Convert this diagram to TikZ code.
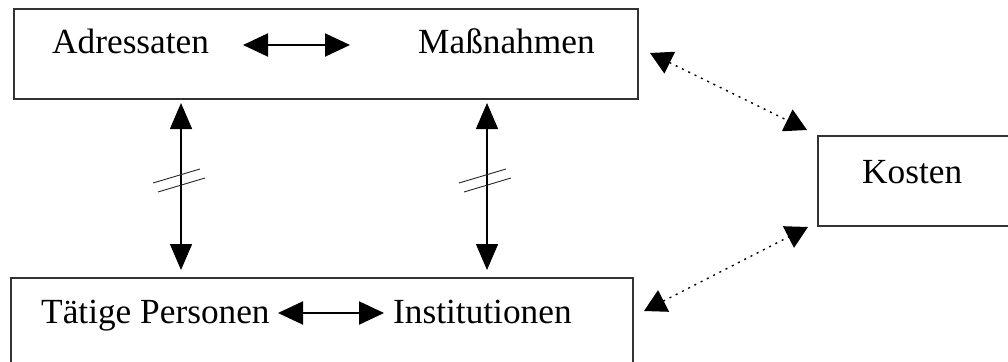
\documentclass[tikz,border=0pt]{standalone}
\usepackage{fontspec}
\setmainfont{Liberation Serif}
\usetikzlibrary{arrows.meta}
\begin{document}
\begin{tikzpicture}[x=1pt,y=-1pt,
  box/.style={draw=black!80, line width=2pt, rectangle, inner sep=0pt, anchor=north west},
  lbl/.style={inner sep=0pt, anchor=base west, font=\fontsize{35.3}{40}\selectfont},
  link/.style={line width=2pt, {Triangle[length=25pt,width=23pt]}-{Triangle[length=25pt,width=23pt]}},
  vlink/.style={line width=1.4pt, {Triangle[length=26pt,width=22pt]}-{Triangle[length=26pt,width=22pt]}},
  dlink/.style={line width=1.4pt, dash pattern=on 2pt off 5pt, {Triangle[length=22pt,width=24pt]}-{Triangle[length=22pt,width=24pt]}},
  cut/.style={line width=0.9pt, black!85}]
\useasboundingbox (0,0) rectangle (1008,361);

% boxes
\node[box, minimum width=624pt, minimum height=90pt] (topbox) at (13,8) {};
\node[box, minimum width=622pt, minimum height=100pt] (botbox) at (10,277) {};
\node[box, minimum width=210pt, minimum height=90pt] (cost) at (817,135) {};

% labels
\node[lbl] (adr) at (52,53) {Adressaten};
\node[lbl] (mass) at (418,53) {Maßnahmen};
\node[lbl] (pers) at (41,323) {Tätige Personen};
\node[lbl] (inst) at (393,323) {Institutionen};
\node[lbl] (kost) at (862,183) {Kosten};

% arrow end points
\coordinate (a1) at (243,45);
\coordinate (a2) at (350,45);
\coordinate (b1) at (278,313);
\coordinate (b2) at (384,313);
\coordinate (v1t) at (181,103);
\coordinate (v1b) at (181,270);
\coordinate (v2t) at (487,103);
\coordinate (v2b) at (487,270);
\coordinate (d1a) at (650,53);
\coordinate (d1b) at (807,130);
\coordinate (d2a) at (644,311);
\coordinate (d2b) at (808,227);

% horizontal links inside the boxes
\draw[link] (a1) -- (a2);
\draw[link] (b1) -- (b2);

% vertical links between the boxes
\draw[vlink] (v1t) -- (v1b);
\draw[vlink] (v2t) -- (v2b);

% break marks on the vertical links
\draw[cut] (153,183) -- (200,169);
\draw[cut] (158,192) -- (205,178);
\draw[cut] (459,183) -- (506,169);
\draw[cut] (464,192) -- (511,178);

% dotted links to the cost box
\draw[dlink] (d1a) -- (d1b);
\draw[dlink] (d2a) -- (d2b);
\end{tikzpicture}
\end{document}
